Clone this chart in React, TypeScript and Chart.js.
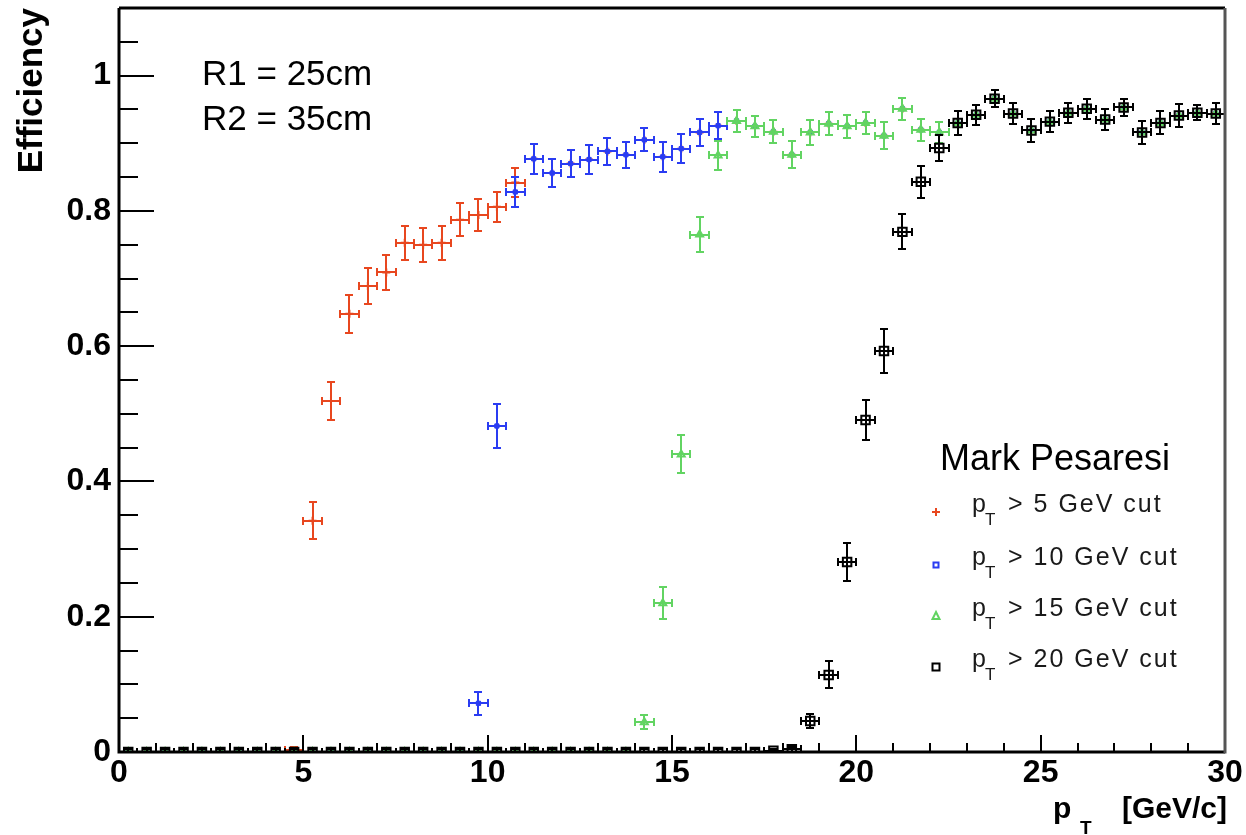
import React, { useEffect, useRef } from "react";
import { Chart, registerables } from "chart.js";

Chart.register(...registerables);

const FONT = '"Liberation Sans", Arial, Helvetica, sans-serif';

// ---- data -----------------------------------------------------------
const ptBinCenters = [
  0.25, 0.75, 1.25, 1.75, 2.25, 2.75, 3.25, 3.75, 4.25, 4.75,
  5.25, 5.75, 6.25, 6.75, 7.25, 7.75, 8.25, 8.75, 9.25, 9.75,
  10.25, 10.75, 11.25, 11.75, 12.25, 12.75, 13.25, 13.75, 14.25, 14.75,
  15.25, 15.75, 16.25, 16.75, 17.25, 17.75, 18.25, 18.75, 19.25, 19.75,
  20.25, 20.75, 21.25, 21.75, 22.25, 22.75, 23.25, 23.75, 24.25, 24.75,
  25.25, 25.75, 26.25, 26.75, 27.25, 27.75, 28.25, 28.75, 29.25, 29.75,
];
const binHalfWidth = 0.25;

const effCut5 = [
  0, 0, 0, 0, 0, 0, 0, 0, 0, 0.003,
  0.342, 0.519, 0.648, 0.689, 0.709, 0.753, 0.75, 0.753, 0.787, 0.794,
  0.806, 0.842, 0.877, 0.856, 0.87, 0.876, 0.888, 0.883, 0.905, 0.88,
  0.892, 0.916, 0.926, 0.933, 0.925, 0.917, 0.883, 0.916, 0.929, 0.925,
  0.93, 0.911, 0.951, 0.92, 0.916, 0.93, 0.942, 0.966, 0.944, 0.919,
  0.932, 0.945, 0.951, 0.935, 0.953, 0.916, 0.93, 0.941, 0.945, 0.944,
];
const errCut5 = [
  0.004, 0.004, 0.004, 0.004, 0.004, 0.004, 0.004, 0.004, 0.004, 0.004,
  0.027, 0.028, 0.028, 0.027, 0.026, 0.025, 0.025, 0.025, 0.024, 0.023,
  0.022, 0.021, 0.022, 0.021, 0.02, 0.021, 0.02, 0.019, 0.017, 0.022,
  0.021, 0.02, 0.02, 0.016, 0.016, 0.017, 0.02, 0.019, 0.017, 0.017,
  0.016, 0.02, 0.016, 0.016, 0.016, 0.018, 0.015, 0.013, 0.016, 0.017,
  0.015, 0.015, 0.015, 0.016, 0.012, 0.017, 0.017, 0.017, 0.011, 0.015,
];

const effCut10 = [
  0, 0, 0, 0, 0, 0, 0, 0, 0, 0,
  0, 0, 0, 0, 0, 0, 0, 0, 0, 0.072,
  0.482, 0.828, 0.877, 0.856, 0.87, 0.876, 0.888, 0.883, 0.905, 0.88,
  0.892, 0.916, 0.926, 0.933, 0.925, 0.917, 0.883, 0.916, 0.929, 0.925,
  0.93, 0.911, 0.951, 0.92, 0.916, 0.93, 0.942, 0.966, 0.944, 0.919,
  0.932, 0.945, 0.951, 0.935, 0.953, 0.916, 0.93, 0.941, 0.945, 0.944,
];
const errCut10 = [
  0.004, 0.004, 0.004, 0.004, 0.004, 0.004, 0.004, 0.004, 0.004, 0.004,
  0.004, 0.004, 0.004, 0.004, 0.004, 0.004, 0.004, 0.004, 0.004, 0.017,
  0.032, 0.022, 0.022, 0.021, 0.02, 0.021, 0.02, 0.019, 0.017, 0.022,
  0.021, 0.02, 0.02, 0.016, 0.016, 0.017, 0.02, 0.019, 0.017, 0.017,
  0.016, 0.02, 0.016, 0.016, 0.016, 0.018, 0.015, 0.013, 0.016, 0.017,
  0.015, 0.015, 0.015, 0.016, 0.012, 0.017, 0.017, 0.017, 0.011, 0.015,
];

const effCut15 = [
  0, 0, 0, 0, 0, 0, 0, 0, 0, 0,
  0, 0, 0, 0, 0, 0, 0, 0, 0, 0,
  0, 0, 0, 0, 0, 0, 0, 0, 0.044, 0.22,
  0.44, 0.765, 0.882, 0.933, 0.925, 0.917, 0.883, 0.916, 0.929, 0.925,
  0.93, 0.911, 0.951, 0.92, 0.916, 0.93, 0.942, 0.966, 0.944, 0.919,
  0.932, 0.945, 0.951, 0.935, 0.953, 0.916, 0.93, 0.941, 0.945, 0.944,
];
const errCut15 = [
  0.004, 0.004, 0.004, 0.004, 0.004, 0.004, 0.004, 0.004, 0.004, 0.004,
  0.004, 0.004, 0.004, 0.004, 0.004, 0.004, 0.004, 0.004, 0.004, 0.004,
  0.004, 0.004, 0.004, 0.004, 0.004, 0.004, 0.004, 0.004, 0.01, 0.024,
  0.028, 0.026, 0.021, 0.016, 0.016, 0.017, 0.02, 0.019, 0.017, 0.017,
  0.016, 0.02, 0.016, 0.016, 0.016, 0.018, 0.015, 0.013, 0.016, 0.017,
  0.015, 0.015, 0.015, 0.016, 0.012, 0.017, 0.017, 0.017, 0.011, 0.015,
];

const effCut20 = [
  0, 0, 0, 0, 0, 0, 0, 0, 0, 0,
  0, 0, 0, 0, 0, 0, 0, 0, 0, 0,
  0, 0, 0, 0, 0, 0, 0, 0, 0, 0,
  0, 0, 0, 0, 0, 0.002, 0.004, 0.046, 0.114, 0.281,
  0.491, 0.593, 0.769, 0.843, 0.893, 0.93, 0.942, 0.966, 0.944, 0.919,
  0.932, 0.945, 0.951, 0.935, 0.953, 0.916, 0.93, 0.941, 0.945, 0.944,
];
const errCut20 = [
  0.004, 0.004, 0.004, 0.004, 0.004, 0.004, 0.004, 0.004, 0.004, 0.004,
  0.004, 0.004, 0.004, 0.004, 0.004, 0.004, 0.004, 0.004, 0.004, 0.004,
  0.004, 0.004, 0.004, 0.004, 0.004, 0.004, 0.004, 0.004, 0.004, 0.004,
  0.004, 0.004, 0.004, 0.004, 0.004, 0.003, 0.004, 0.01, 0.02, 0.028,
  0.03, 0.033, 0.026, 0.024, 0.019, 0.018, 0.015, 0.013, 0.016, 0.017,
  0.015, 0.015, 0.015, 0.016, 0.012, 0.017, 0.017, 0.017, 0.011, 0.015,
];

const xTickValues = [0, 5, 10, 15, 20, 25, 30];
const xTickLabels = ["0", "5", "10", "15", "20", "25", "30"];
const yTickValues = [0, 0.2, 0.4, 0.6, 0.8, 1];
const yTickLabels = ["0", "0.2", "0.4", "0.6", "0.8", "1"];

const legendTitle = "Mark Pesaresi";
const legendLabels = ["> 5 GeV cut", "> 10 GeV cut", "> 15 GeV cut", "> 20 GeV cut"];
const infoLines = ["R1 = 25cm", "R2 = 35cm"];
const yTitle = "Efficiency";
const xTitleMain = "p";
const xTitleSub = "T";
const xTitleRest = "[GeV/c]";

// ---- styles -----------------------------------------------------------
const RED = "#e8471f";
const BLUE = "#2a3cf2";
const GREEN = "#62d462";
const BLACK = "#000000";

const series = [
  { eff: effCut5, err: errCut5, color: RED, style: "cross", radius: 4, fill: RED, bw: 2 },
  { eff: effCut10, err: errCut10, color: BLUE, style: "rect", radius: 3, fill: BLUE, bw: 1 },
  { eff: effCut15, err: errCut15, color: GREEN, style: "triangle", radius: 4, fill: "rgba(0,0,0,0)", bw: 2 },
  { eff: effCut20, err: errCut20, color: BLACK, style: "rect", radius: 6, fill: "rgba(0,0,0,0)", bw: 2 },
];

const CAP = 4;
const R = Math.round;

const errorBarPlugin = {
  id: "errorBars",
  beforeDatasetDraw(chart: any, args: any) {
    const s = series[args.index];
    if (!s) return;
    const { ctx, chartArea: a } = chart;
    const xs = chart.scales.x;
    const ys = chart.scales.y;
    ctx.save();
    ctx.beginPath();
    ctx.rect(a.left, a.top, a.right - a.left, a.bottom - a.top);
    ctx.clip();
    ctx.strokeStyle = s.color;
    ctx.lineWidth = 2;
    ctx.beginPath();
    ptBinCenters.forEach((x, i) => {
      const v = s.eff[i];
      const e = s.err[i];
      const px = R(xs.getPixelForValue(x));
      const py = R(ys.getPixelForValue(v));
      const xl = R(xs.getPixelForValue(x - binHalfWidth));
      const xr = R(xs.getPixelForValue(x + binHalfWidth));
      const yt = R(ys.getPixelForValue(v + e));
      const lo = Math.max(0, v - e);
      const yb = R(ys.getPixelForValue(lo));
      ctx.moveTo(xl, py);
      ctx.lineTo(xr, py);
      ctx.moveTo(xl, py - CAP);
      ctx.lineTo(xl, py + CAP);
      ctx.moveTo(xr, py - CAP);
      ctx.lineTo(xr, py + CAP);
      ctx.moveTo(px, yt);
      ctx.lineTo(px, yb);
      ctx.moveTo(px - CAP, yt);
      ctx.lineTo(px + CAP, yt);
      if (lo > 0) {
        ctx.moveTo(px - CAP, yb);
        ctx.lineTo(px + CAP, yb);
      }
    });
    ctx.stroke();
    ctx.restore();
  },
};

function drawMarker(ctx: CanvasRenderingContext2D, k: number, x: number, y: number) {
  const s = series[k];
  ctx.save();
  ctx.strokeStyle = s.color;
  ctx.fillStyle = s.color;
  ctx.lineWidth = 2;
  ctx.beginPath();
  if (k === 0) {
    ctx.moveTo(x - 4, y);
    ctx.lineTo(x + 4, y);
    ctx.moveTo(x, y - 4);
    ctx.lineTo(x, y + 4);
    ctx.stroke();
  } else if (k === 1) {
    ctx.rect(x - 2.5, y - 2.5, 5, 5);
    ctx.stroke();
  } else if (k === 2) {
    ctx.moveTo(x, y - 4);
    ctx.lineTo(x + 3.5, y + 3);
    ctx.lineTo(x - 3.5, y + 3);
    ctx.closePath();
    ctx.stroke();
  } else {
    ctx.rect(x - 3.5, y - 3.5, 7, 7);
    ctx.stroke();
  }
  ctx.restore();
}

const framePlugin = {
  id: "rootFrame",
  afterDraw(chart: any) {
    const { ctx, chartArea: a } = chart;
    const xs = chart.scales.x;
    const ys = chart.scales.y;
    ctx.save();

    // ticks
    ctx.strokeStyle = "#000";
    ctx.lineWidth = 2;
    ctx.beginPath();
    for (let v = 0; v <= 30; v += 1) {
      const px = R(xs.getPixelForValue(v));
      const len = v % 5 === 0 ? 17 : 9;
      ctx.moveTo(px, a.bottom);
      ctx.lineTo(px, a.bottom - len);
    }
    for (let k = 0; k <= 22; k += 1) {
      const v = k * 0.05;
      const py = R(ys.getPixelForValue(v));
      const len = k % 4 === 0 ? 35 : 19;
      ctx.moveTo(a.left, py);
      ctx.lineTo(a.left + len, py);
    }
    ctx.stroke();

    // frame
    ctx.lineWidth = 3;
    ctx.strokeStyle = "#000";
    ctx.beginPath();
    ctx.moveTo(a.left, a.top);
    ctx.lineTo(a.right, a.top);
    ctx.moveTo(a.left, a.top);
    ctx.lineTo(a.left, a.bottom);
    ctx.lineTo(a.right, a.bottom);
    ctx.stroke();
    ctx.strokeStyle = "#555";
    ctx.beginPath();
    ctx.moveTo(a.right, a.top);
    ctx.lineTo(a.right, a.bottom + 1.5);
    ctx.stroke();

    ctx.fillStyle = "#000";
    ctx.textBaseline = "alphabetic";

    // y title
    ctx.save();
    ctx.font = `bold 35px ${FONT}`;
    ctx.translate(42, 8);
    ctx.rotate(-Math.PI / 2);
    ctx.textAlign = "right";
    ctx.fillText(yTitle, 0, 0);
    ctx.restore();

    // x title
    ctx.textAlign = "left";
    ctx.font = `bold 30px ${FONT}`;
    const restW = ctx.measureText(xTitleRest).width;
    ctx.fillText(xTitleRest, 1227 - restW, 818);
    ctx.fillText(xTitleMain, 1053, 818);
    ctx.font = `bold 19px ${FONT}`;
    ctx.fillText(xTitleSub, 1080, 834);

    // info text
    ctx.font = `35px ${FONT}`;
    ctx.fillText(infoLines[0], 202, 85);
    ctx.fillText(infoLines[1], 202, 130);

    // legend
    ctx.font = `36px ${FONT}`;
    ctx.fillText(legendTitle, 940, 470);
    const rows = [512, 565, 616, 667];
    rows.forEach((by, k) => {
      ctx.fillStyle = "#1a1a1a";
      ctx.font = `25px ${FONT}`;
      ctx.fillText("p", 972, by);
      ctx.font = `17px ${FONT}`;
      ctx.fillText("T", 985, by + 13);
      ctx.font = `25px ${FONT}`;
      try {
        (ctx as any).letterSpacing = "2px";
      } catch (e) {}
      ctx.fillText(legendLabels[k], 1008, by);
      try {
        (ctx as any).letterSpacing = "0px";
      } catch (e) {}
      drawMarker(ctx, k, 936, by);
    });

    ctx.restore();
  },
};

export default function App() {
  const canvasRef = useRef<HTMLCanvasElement | null>(null);

  useEffect(() => {
    const canvas = canvasRef.current;
    if (!canvas) return;
    const tickFont = { family: FONT, size: 32, weight: "bold" as const };
    const chart = new Chart(canvas, {
      type: "scatter",
      data: {
        datasets: series.map((s, k) => ({
          label: legendLabels[k],
          data: ptBinCenters.map((x, i) => ({ x, y: s.eff[i] })),
          showLine: false,
          pointStyle: s.style as any,
          pointRadius: s.radius,
          pointHoverRadius: s.radius,
          pointBorderColor: s.color,
          pointBackgroundColor: s.fill,
          pointBorderWidth: s.bw,
          order: 4 - k,
        })),
      },
      options: {
        animation: false,
        responsive: false,
        events: [],
        layout: { padding: { left: 0, right: 21, top: 8, bottom: 0 } },
        plugins: {
          legend: { display: false },
          tooltip: { enabled: false },
        },
        scales: {
          x: {
            type: "linear",
            min: 0,
            max: 30,
            afterBuildTicks: (s: any) => {
              s.ticks = xTickValues.map((v) => ({ value: v }));
            },
            afterFit: (s: any) => {
              s.height = 83;
              s.paddingLeft = 0;
              s.paddingRight = 0;
              s.paddingTop = 0;
              s.paddingBottom = 0;
            },
            ticks: {
              autoSkip: false,
              maxRotation: 0,
              padding: 2,
              color: "#000",
              font: tickFont,
              callback: (_v: any, i: number) => xTickLabels[i],
            },
            grid: { display: false, drawTicks: false },
            border: { display: false },
          },
          y: {
            type: "linear",
            min: 0,
            max: 1.1,
            afterBuildTicks: (s: any) => {
              s.ticks = yTickValues.map((v) => ({ value: v }));
            },
            afterFit: (s: any) => {
              s.width = 119;
              s.paddingLeft = 0;
              s.paddingRight = 0;
              s.paddingTop = 0;
              s.paddingBottom = 0;
            },
            ticks: {
              autoSkip: false,
              padding: 8,
              color: "#000",
              font: tickFont,
              callback: (_v: any, i: number) => yTickLabels[i],
            },
            grid: { display: false, drawTicks: false },
            border: { display: false },
          },
        },
      },
      plugins: [errorBarPlugin, framePlugin],
    });
    return () => chart.destroy();
  }, []);

  return (
    <div style={{ position: "absolute", left: 0, top: 0, width: 1246, height: 835, background: "#fff" }}>
      <canvas ref={canvasRef} width={1246} height={835} />
    </div>
  );
}
